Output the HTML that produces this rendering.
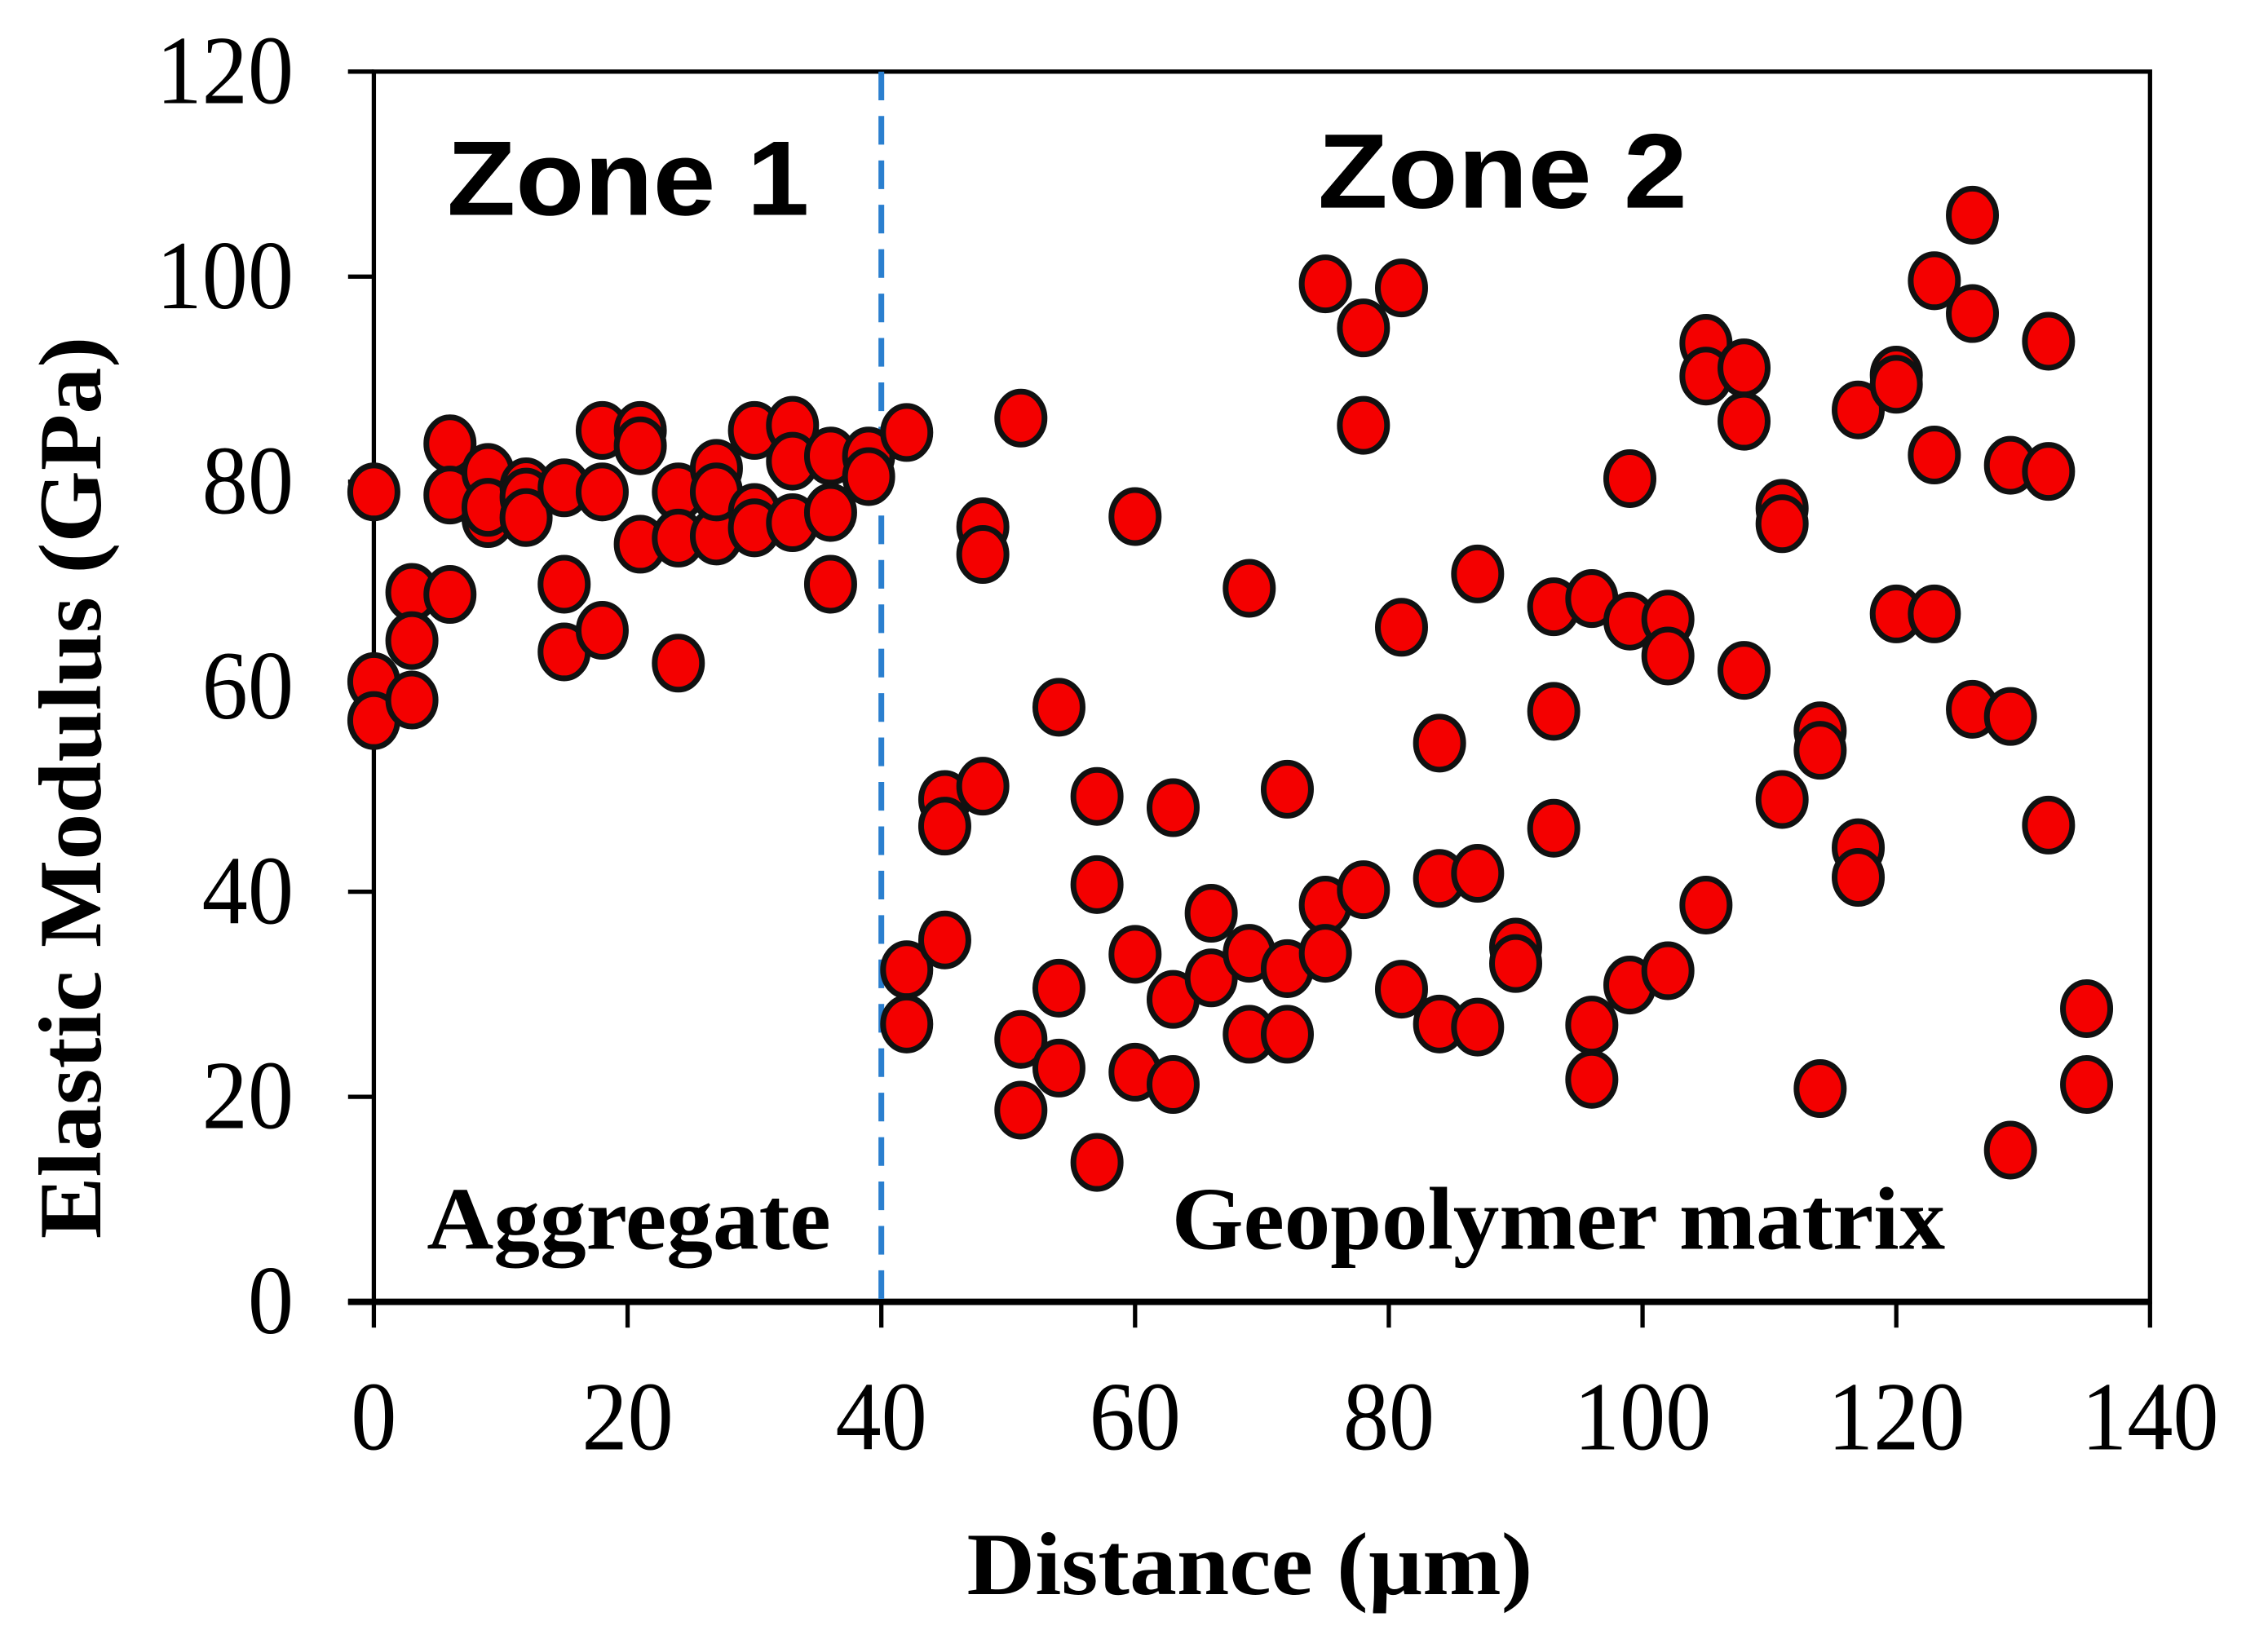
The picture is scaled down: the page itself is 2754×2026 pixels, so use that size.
<!DOCTYPE html>
<html><head><meta charset="utf-8"><style>html,body{margin:0;padding:0;background:#fff}svg{display:block}</style></head>
<body>
<svg xmlns="http://www.w3.org/2000/svg" width="2754" height="2026" viewBox="0 0 1568 1153.5">
<rect width="1568" height="1153.5" fill="#fff"/>
<g id="axes"></g>
<g id="marks"></g>
<g id="labels">
<text x="312" y="150" font-family="Liberation Sans, sans-serif" font-weight="bold" font-size="74" textLength="253" lengthAdjust="spacingAndGlyphs">Zone 1</text>
<text x="920" y="145" font-family="Liberation Sans, sans-serif" font-weight="bold" font-size="74" textLength="258" lengthAdjust="spacingAndGlyphs">Zone 2</text>
<text x="298" y="872" font-family="Liberation Serif, serif" font-weight="bold" font-size="62" textLength="282" lengthAdjust="spacingAndGlyphs">Aggregate</text>
<text x="818" y="872" font-family="Liberation Serif, serif" font-weight="bold" font-size="62" textLength="540" lengthAdjust="spacingAndGlyphs">Geopolymer matrix</text>
<text x="675" y="1113" font-family="Liberation Serif, serif" font-weight="bold" font-size="62" textLength="395" lengthAdjust="spacingAndGlyphs">Distance (µm)</text>
<text transform="translate(70,865) rotate(-90)" x="0" y="0" font-family="Liberation Serif, serif" font-weight="bold" font-size="62" textLength="630" lengthAdjust="spacingAndGlyphs">Elastic Modulus (GPa)</text>
</g>
</svg>
<script>
const xs = [0,0,0,3,3,3,6,6,6,9,9,9,12,12,12,15,15,15,18,18,18,21,21,21,24,24,24,27,27,27,30,30,30,33,33,33,36,36,36,39,39,42,42,42,
45,45,45,48,48,48,51,51,51,54,54,54,57,57,57,60,60,60,63,63,63,66,66,69,69,69,72,72,72,75,75,75,78,78,78,81,81,81,84,84,84,87,87,87,90,90,
93,93,93,96,96,96,99,99,99,102,102,102,105,105,105,108,108,108,111,111,111,114,114,114,117,117,117,120,120,120,123,123,123,126,126,126,129,129,129,132,132,132,135,135];
const ys = [79,60.5,56.7,69.2,64.5,58.7,83.7,78.7,69,80.9,76.4,77.5,79.5,78.5,76.5,79.4,70,63.4,85,79,65.5,85,83.5,73.9,79,74.5,62.3,81.3,74.7,79,85,77,75.5,85.5,82,76,82.5,77,70,82.5,80.5,84.8,32.4,27.1,
49,46.4,35.3,75.6,72.9,50.3,86.2,25.6,18.7,58,30.6,22.8,49.3,40.7,13.6,76.6,33.9,22.4,48.2,29.5,21.2,37.9,31.6,69.6,34,26.1,50,32.5,26.1,99.3,38.7,34,95,85.5,40.2,98.9,65.8,30.5,54.5,41.3,27.1,71,41.8,26.8,34.6,33,
67.8,57.6,46.2,68.6,27,21.7,80.3,66.4,30.9,66.6,63,32.3,93.5,90.3,38.7,91.1,85.9,61.6,77.4,75.9,49,55.7,53.8,20.8,87,44.3,41.4,90.4,89.5,67.1,99.6,82.6,67.1,106,96.4,57.8,81.6,57.1,14.8,93.7,81,46.5,28.6,21.2];
const xTicks = [0,20,40,60,80,100,120,140];
const yTicks = [0,20,40,60,80,100,120];
const divider = [40];

const NS = 'http://www.w3.org/2000/svg';
const X0=261, X1=1501, Y0=909, Y1=50;
const sx = v => X0 + (v/140)*(X1-X0);
const sy = v => Y0 - (v/120)*(Y0-Y1);
function mk(tag, attrs, parent){const e=document.createElementNS(NS,tag);for(const k in attrs)e.setAttribute(k,attrs[k]);parent.appendChild(e);return e;}
const axes=document.getElementById('axes'), marks=document.getElementById('marks');

let f = mk('rect',{x:X0,y:Y1,width:X1-X0,height:Y0-Y1,fill:'none',stroke:'#000','stroke-width':3},axes);


let xa = mk('line',{x1:243,y1:Y0,x2:X1,y2:Y0,stroke:'#000','stroke-width':4.5},axes);


let tl = mk('line',{x1:243,y1:Y1,x2:X0,y2:Y1,stroke:'#000','stroke-width':3},axes);



yTicks.forEach(v=>{
  const t=mk('line',{x1:243,y1:sy(v),x2:X0,y2:sy(v),stroke:'#000','stroke-width':3},axes);
  
  
  const s=String(v);
  const l=mk('text',{x:205,y:sy(v)+22,'text-anchor':'end','font-family':'Liberation Serif, serif','font-size':68,textLength:s.length*32,lengthAdjust:'spacingAndGlyphs'},axes);
  l.textContent=s;
  
  
});
xTicks.forEach(v=>{
  const t=mk('line',{x1:sx(v),y1:Y0,x2:sx(v),y2:927,stroke:'#000','stroke-width':3},axes);
  
  
  const s=String(v);
  const l=mk('text',{x:sx(v),y:1012,'text-anchor':'middle','font-family':'Liberation Serif, serif','font-size':68,textLength:s.length*32,lengthAdjust:'spacingAndGlyphs'},axes);
  l.textContent=s;
  
  
});
divider.forEach(v=>{
  const d=mk('line',{x1:sx(v),y1:Y1,x2:sx(v),y2:Y0,stroke:'#2a7fcf','stroke-width':4,'stroke-dasharray':'20 11'},axes);
  
  
});
xs.forEach((x,i)=>{
  const c=mk('ellipse',{cx:sx(x),cy:sy(ys[i]),rx:16.5,ry:18.5,fill:'#f40000',stroke:'#111','stroke-width':4},marks);
  
  
});
</script>
</body></html>
